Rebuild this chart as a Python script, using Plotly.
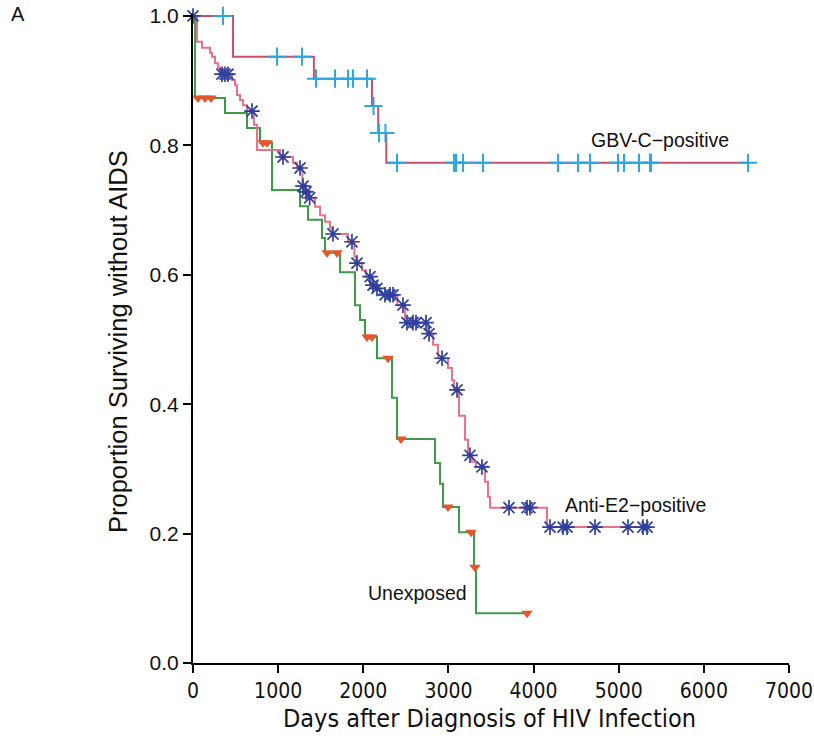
import numpy as np
import plotly.graph_objects as go

# ---- Kaplan-Meier data: days after HIV diagnosis, survival after each event ----
gbv_event_days = [470, 1420, 2102, 2175, 2270]
gbv_surv = [0.937, 0.903, 0.861, 0.819, 0.773]
gbv_censor_days = [352, 987, 1280, 1445, 1668, 1820, 1879, 2044, 2120, 2185, 2260,
                   2396, 3065, 3089, 3171, 3406, 4287, 4522, 4663, 4992, 5062,
                   5238, 5367, 5379, 6518]

e2_event_days = [47, 106, 200, 223, 258, 294, 317, 458, 493, 517, 552, 587, 634,
                 716, 752, 1022, 1175, 1221, 1285, 1320, 1355, 1433, 1492, 1550,
                 1609, 1633, 1820, 1895, 1915, 1985, 2032, 2100, 2150, 2196, 2400,
                 2490, 2755, 2819, 2877, 2995, 3042, 3065, 3124, 3195, 3230, 3277,
                 3324, 3429, 3465, 3488, 4158]
e2_surv = [0.960, 0.951, 0.943, 0.937, 0.927, 0.920, 0.910, 0.901, 0.893, 0.878,
           0.870, 0.862, 0.853, 0.832, 0.793, 0.782, 0.773, 0.765, 0.737, 0.728,
           0.719, 0.705, 0.692, 0.682, 0.672, 0.663, 0.651, 0.628, 0.618, 0.607,
           0.597, 0.584, 0.579, 0.569, 0.553, 0.526, 0.509, 0.492, 0.471, 0.456,
           0.437, 0.422, 0.382, 0.345, 0.321, 0.311, 0.303, 0.280, 0.257, 0.240,
           0.210]
e2_censor_days = [0, 340, 376, 411, 693, 1057, 1257, 1292, 1327, 1370, 1644, 1867,
                  1926, 2079, 2114, 2161, 2255, 2314, 2349, 2466, 2513, 2584, 2619,
                  2737, 2772, 2925, 3101, 3253, 3394, 3711, 3923, 3958, 4193, 4346,
                  4393, 4722, 5109, 5285, 5332]

unexp_event_days = [23, 376, 634, 787, 928, 1257, 1351, 1515, 1550, 1727, 1903,
                    1961, 2020, 2161, 2337, 2396, 2842, 2901, 2936, 3124, 3300, 3324]
unexp_surv = [0.873, 0.850, 0.827, 0.804, 0.731, 0.706, 0.685, 0.657, 0.634, 0.604,
              0.553, 0.530, 0.504, 0.471, 0.410, 0.346, 0.309, 0.277, 0.241, 0.202,
              0.148, 0.077]
unexp_censor_days = [59, 141, 211, 822, 870, 1574, 1691, 2044, 2102, 2290, 2443,
                     2995, 3265, 3312, 3923]

x_ticks = [0, 1000, 2000, 3000, 4000, 5000, 6000, 7000]
y_ticks = [0.0, 0.2, 0.4, 0.6, 0.8, 1.0]

FONT = "Liberation Sans, Arial, sans-serif"
NARROW = "Liberation Sans Narrow, DejaVu Sans Condensed, Liberation Sans, Arial, sans-serif"


def step_curve(event_days, surv, censor_days):
    """Step-function vertices (start at 1.0, run to the last follow-up)."""
    end = max(max(event_days), max(censor_days))
    xs = [0] + list(event_days) + [end]
    ys = [1.0] + list(surv) + [surv[-1]]
    return xs, ys


def surv_at(event_days, surv, days):
    """Survival value of the KM curve at the given times."""
    s = np.concatenate([[1.0], surv])
    idx = np.searchsorted(np.asarray(event_days), np.asarray(days), side="right")
    return s[idx]


groups = [
    # (events, surv, censors, line colour, marker symbol, marker colour, size, width)
    (unexp_event_days, unexp_surv, unexp_censor_days, "#3f9a4a",
     "triangle-down", "#e8552b", 10, 0),
    (e2_event_days, e2_surv, e2_censor_days, "#e8728c",
     "asterisk-open", "#2f3f9e", 13, 1.7),
    (gbv_event_days, gbv_surv, gbv_censor_days, "#c9506b",
     "cross-thin-open", "#2ba8e0", 13, 2),
]

fig = go.Figure()

for ev, sv, cens, lcol, *_ in groups:
    xs, ys = step_curve(ev, sv, cens)
    fig.add_trace(go.Scatter(x=xs, y=ys, mode="lines", line_shape="hv",
                             line=dict(color=lcol, width=2), hoverinfo="skip",
                             showlegend=False))

for ev, sv, cens, lcol, sym, mcol, msize, mwidth in groups:
    cy = surv_at(ev, sv, cens)
    marker = dict(symbol=sym, size=msize, color=mcol)
    if mwidth:
        marker["line"] = dict(color=mcol, width=mwidth)
    fig.add_trace(go.Scatter(x=cens, y=cy, mode="markers", marker=marker,
                             cliponaxis=False, showlegend=False))

LABEL = dict(family=FONT, size=19.5, color="#111")
annotations = [
    dict(text="GBV-C\u2212positive", x=4650, y=0.808, xanchor="left", yanchor="middle",
         showarrow=False, font=LABEL),
    dict(text="Anti-E2\u2212positive", x=4350, y=0.244, xanchor="left", yanchor="middle",
         showarrow=False, font=LABEL),
    dict(text="Unexposed", x=2030, y=0.108, xanchor="left", yanchor="middle",
         showarrow=False, font=LABEL),
    dict(text="Days after Diagnosis of HIV Infection", xref="paper", yref="paper",
         x=0.497, y=-0.085, xanchor="center", yanchor="middle", showarrow=False,
         font=dict(family=NARROW, size=25, color="#111")),
    dict(text="Proportion Surviving without AIDS", xref="paper", yref="paper",
         x=-0.126, y=0.496, xanchor="center", yanchor="middle", textangle=-90,
         showarrow=False, font=dict(family=FONT, size=25.5, color="#111")),
    dict(text="A", xref="paper", yref="paper", x=-0.309, y=1.0, xanchor="left",
         yanchor="middle", showarrow=False, font=dict(family=FONT, size=20, color="#111")),
]

fig.update_layout(
    width=814, height=740,
    margin=dict(l=193, r=25, t=14, b=77, autoexpand=False),
    paper_bgcolor="white", plot_bgcolor="white",
    annotations=annotations,
    xaxis=dict(range=[0, 7000], tickvals=x_ticks, ticks="outside", ticklen=8,
               tickwidth=2, tickcolor="black", showline=True, linecolor="black",
               linewidth=2, showgrid=False, zeroline=False, automargin=False,
               ticklabeloverflow="allow",
               tickfont=dict(family=NARROW, size=21, color="#111")),
    yaxis=dict(range=[0, 1.003], tickvals=y_ticks, tickformat=".1f", ticks="outside",
               ticklen=8, tickwidth=2, tickcolor="black", showline=True,
               linecolor="black", linewidth=2, showgrid=False, zeroline=False,
               automargin=False,
               tickfont=dict(family=FONT, size=21, color="#111")),
)

fig.write_html("out.html")
